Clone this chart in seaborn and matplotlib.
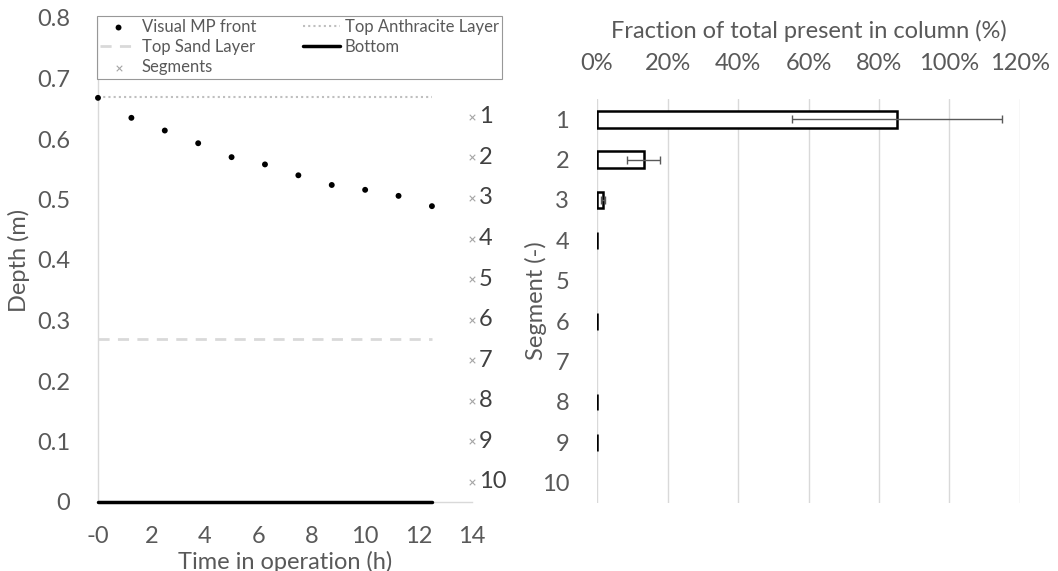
import matplotlib.pyplot as plt
import numpy as np
import pandas as pd
import seaborn as sns
from matplotlib.ticker import PercentFormatter

# visual MP front over time
time_h = [0.0, 1.25, 2.5, 3.75, 5.0, 6.25, 7.5, 8.75, 10.0, 11.25, 12.5]
front_depth = [0.668, 0.635, 0.614, 0.593, 0.570, 0.558, 0.540, 0.524, 0.516, 0.506, 0.489]

# filter layers
layer_time = [0.0, 12.5]
top_anthracite = [0.67, 0.67]
top_sand = [0.27, 0.27]
bottom = [0.0, 0.0]

# segment centres (x=14 h column)
segment_x = [14] * 10
segment_depth = [0.6365, 0.5695, 0.5025, 0.4355, 0.3685, 0.3015, 0.2345, 0.1675, 0.1005, 0.0335]
segment_labels = ["1", "2", "3", "4", "5", "6", "7", "8", "9", "10"]

# fraction per segment (right panel)
fraction = [0.852, 0.132, 0.017, 0.001, 0.0, 0.001, 0.0, 0.001, 0.001, 0.0]
fraction_err = [0.298, 0.047, 0.006, 0.0, 0.0, 0.0, 0.0, 0.0, 0.0, 0.0]

x_ticks = [0, 2, 4, 6, 8, 10, 12, 14]
x_tick_labels = ["-0", "2", "4", "6", "8", "10", "12", "14"]
y_ticks = [0, 0.1, 0.2, 0.3, 0.4, 0.5, 0.6, 0.7, 0.8]
y_tick_labels = ["0", "0.1", "0.2", "0.3", "0.4", "0.5", "0.6", "0.7", "0.8"]

sns.set_style("white")
plt.rcParams["font.family"] = ["Lato", "DejaVu Sans"]
txt = "#595959"
fs = 17

fig = plt.figure(figsize=(10.58, 5.71), dpi=100)
W, H = 1058, 571
ax = fig.add_axes([98 / W, (H - 502) / H, (472 - 98) / W, (502 - 18) / H])
ax2 = fig.add_axes([597 / W, (H - 503) / H, (1020 - 597) / W, (503 - 99) / H])

# ---- left panel
sns.lineplot(x=layer_time, y=top_anthracite, ax=ax, color="#bfbfbf", lw=1.5,
             linestyle=(0, (1, 1.5)), label="Top Anthracite Layer")
sns.lineplot(x=layer_time, y=top_sand, ax=ax, color="#d9d9d9", lw=2,
             linestyle=(0, (4, 3)), label="Top Sand Layer")
sns.lineplot(x=layer_time, y=bottom, ax=ax, color="black", lw=2.5, label="Bottom",
             clip_on=False, zorder=4)
sns.scatterplot(x=time_h, y=front_depth, ax=ax, color="black", s=18,
                edgecolor="none", label="Visual MP front", zorder=5, clip_on=False)
ax.scatter(segment_x, segment_depth, marker="x", color="#a6a6a6", s=16,
           linewidths=0.8, label="Segments", clip_on=False)
for x, y, lab in zip(segment_x, segment_depth, segment_labels):
    ax.text(x + 0.25, y, lab, fontsize=fs, color="#404040", va="center", ha="left")

ax.set_xlim(0, 14)
ax.set_ylim(0, 0.8)
ax.set_xticks(x_ticks, x_tick_labels)
ax.set_yticks(y_ticks, y_tick_labels)
ax.tick_params(labelsize=fs, colors=txt, length=0)
ax.tick_params(axis="x", pad=17)
ax.tick_params(axis="y", pad=20)
ax.set_xlabel("Time in operation (h)", fontsize=fs, color=txt, labelpad=3)
ax.set_ylabel("Depth (m)", fontsize=fs, color=txt, labelpad=5)
for s in ["top", "right"]:
    ax.spines[s].set_visible(False)
for s in ["left", "bottom"]:
    ax.spines[s].set_color("#d9d9d9")
    ax.spines[s].set_linewidth(1)

h, l = ax.get_legend_handles_labels()
order = ["Visual MP front", "Top Sand Layer", "Segments", "Top Anthracite Layer", "Bottom"]
hd = dict(zip(l, h))
leg = ax.legend([hd[k] for k in order], order, ncol=2, loc="upper left",
                bbox_to_anchor=(-0.003, 1.005), fontsize=12, frameon=True, fancybox=False,
                borderpad=0.2, labelspacing=0.25, handlelength=2.2, handletextpad=0.3,
                columnspacing=2.8, borderaxespad=0)
leg.get_frame().set_edgecolor("#7f7f7f")
leg.get_frame().set_linewidth(0.8)
for t in leg.get_texts():
    t.set_color(txt)

# ---- right panel
df = pd.DataFrame({"segment": segment_labels, "fraction": fraction})
sns.barplot(data=df, x="fraction", y="segment", orient="h", ax=ax2, color="white",
            edgecolor="black", linewidth=1.8, width=0.42, errorbar=None)
for p in ax2.patches:
    if p.get_width() == 0:
        p.set_visible(False)
has_err = [i for i, e in enumerate(fraction_err) if e > 0]
ax2.errorbar([fraction[i] for i in has_err], has_err,
             xerr=[fraction_err[i] for i in has_err], fmt="none",
             ecolor="#595959", elinewidth=1, capsize=3, capthick=1)
ax2.set_xlim(0, 1.2)
ax2.set_ylim(9.5, -0.5)
ax2.set_xticks(np.arange(0, 1.21, 0.2))
ax2.xaxis.set_major_formatter(PercentFormatter(1.0, decimals=0))
ax2.xaxis.tick_top()
ax2.xaxis.set_label_position("top")
ax2.grid(axis="x", color="#d9d9d9", lw=1)
ax2.set_axisbelow(True)
ax2.tick_params(labelsize=fs, colors=txt, length=0)
ax2.tick_params(axis="x", pad=18)
ax2.tick_params(axis="y", pad=20)
ax2.set_xlabel("Fraction of total present in column (%)", fontsize=fs, color=txt, labelpad=11)
ax2.set_ylabel("Segment (-)", fontsize=fs, color=txt, labelpad=-4)
for s in ax2.spines.values():
    s.set_visible(False)

fig.savefig("out.png", dpi=100)
